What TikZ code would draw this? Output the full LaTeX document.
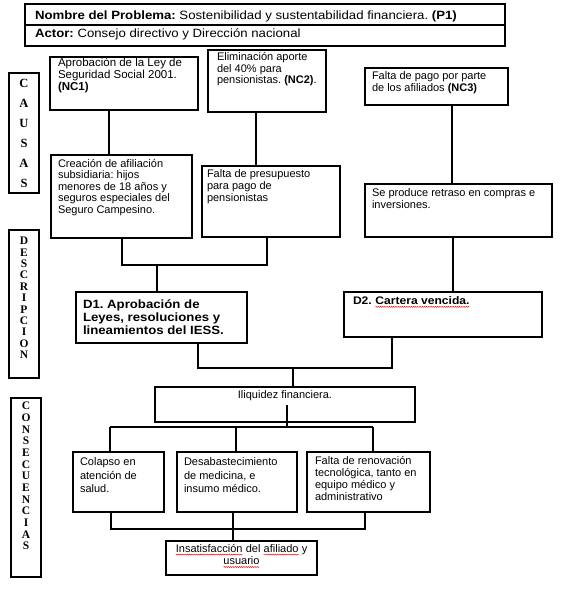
\documentclass[tikz,border=0pt]{standalone}
\usepackage{fontspec}
\setmainfont{Liberation Sans}
\newfontfamily\hdrf[FakeStretch=1.1]{Liberation Sans}
\newfontfamily\sidef{Liberation Serif}
\usetikzlibrary{fit,decorations.pathmorphing}
\frenchspacing
\newcommand\sqw[1]{\tikz[baseline=(w.base)]{\node[inner sep=0pt,outer sep=0pt,draw=none,anchor=base](w){#1};\draw[red,line width=0.45pt,decorate,decoration={snake,amplitude=0.55pt,segment length=2.2pt}]([yshift=-2.2pt]w.base west)--([yshift=-2.2pt]w.base east);}}
\begin{document}
\begin{tikzpicture}[x=1pt,y=-1pt,line width=1.1pt,
  bx/.style={draw,inner sep=0pt,outer sep=0pt},
  txt/.style={inner sep=0pt,outer sep=0pt,anchor=north west,align=left,font=\frenchspacing\fontsize{11}{11.6}\selectfont},
  hdt/.style={inner sep=0pt,outer sep=0pt,anchor=base west,font=\frenchspacing\hdrf\fontsize{12}{13}\selectfont},
  sidel/.style={inner sep=0pt,outer sep=0pt,font=\sidef\bfseries\fontsize{11.5}{11.5}\selectfont}]
\useasboundingbox[fill=white] (0,0) rectangle (578,589);
% header
\node[bx,fit={(25,4) (505,25)}] (hdr1) {};
\node[bx,fit={(25,25) (505,46)}] (hdr2) {};
\node[hdt] (h1t) at (35,19.3) {\textbf{Nombre del Problema:} Sostenibilidad y sustentabilidad financiera. \textbf{(P1)}};
\node[hdt] (h2t) at (35,37.3) {\textbf{Actor:} Consejo directivo y Dirección nacional};
% side labels
\node[bx,fit={(9,73) (39,193)}] (scau) {};
\foreach \l [count=\i] in {C,A,U,S,A,S}
  \node[sidel,font=\sidef\bfseries\fontsize{12.5}{12.5}\selectfont] (ca\i) at (24,{83+20.1*(\i-1)}) {\l};
\node[bx,fit={(9,230) (39,378)}] (sdes) {};
\foreach \l [count=\i] in {D,E,S,C,R,I,P,C,I,O,N}
  \node[sidel] (de\i) at (24,{241+11.4*(\i-1)}) {\l};
\node[bx,fit={(11,398) (41,577)}] (scon) {};
\foreach \l [count=\i] in {C,O,N,S,E,C,U,E,N,C,I,A,S}
  \node[sidel] (co\i) at (26,{406+11.67*(\i-1)}) {\l};
% boxes
\node[bx,fit={(50,57) (198,110)}] (nc1) {};
\node[bx,fit={(208,50) (326,112)}] (nc2) {};
\node[bx,fit={(365,68) (508,105)}] (nc3) {};
\node[bx,fit={(51,155) (192,238)}] (crea) {};
\node[bx,fit={(202,166) (340,237)}] (fpre) {};
\node[bx,fit={(365,184) (552,237)}] (sepr) {};
\node[bx,fit={(76,292) (247,343)}] (d1) {};
\node[bx,fit={(344,292) (542,337)}] (d2) {};
\node[bx,fit={(155,387) (415,422)}] (iliq) {};
\node[bx,fit={(73,452) (164,512)}] (colap) {};
\node[bx,fit={(177,452) (297,512)}] (desab) {};
\node[bx,fit={(307,452) (430,512)}] (frenov) {};
\node[bx,fit={(166,541) (317,575)}] (insat) {};
% texts
\node[txt,font=\frenchspacing\fontsize{11.5}{11.6}\selectfont] (nc1t) at (58,58.5) {Aprobación de la Ley de\\Seguridad Social 2001.\\\textbf{(NC1)}};
\node[txt] (nc2t) at (217,52.5) {Eliminación aporte\\del 40\% para\\pensionistas. \textbf{(NC2)}.};
\node[txt,font=\frenchspacing\fontsize{11}{12}\selectfont] (nc3t) at (372,71.5) {Falta de pago por parte\\de los afiliados \textbf{(NC3)}};
\node[txt] (creat) at (58,159) {Creación de afiliación\\subsidiaria: hijos\\menores de 18 años y\\seguros especiales del\\Seguro Campesino.};
\node[txt,font=\frenchspacing\fontsize{11}{11.8}\selectfont] (fpret) at (207,169.5) {Falta de presupuesto\\para pago de\\pensionistas};
\node[txt,font=\frenchspacing\fontsize{11}{12}\selectfont] (seprt) at (372,188.5) {Se produce retraso en compras e\\inversiones.};
\node[txt,font=\frenchspacing\hdrf\bfseries\fontsize{12}{13}\selectfont] (d1t) at (83,299.5) {D1. Aprobación de\\Leyes, resoluciones y\\lineamientos del IESS.};
\node[txt,font=\frenchspacing\hdrf\bfseries\fontsize{11}{12}\selectfont] (d2t) at (353,296.7) {D2. \sqw{Cartera vencida.}};
\node[txt,anchor=north] (iliqt) at (285,391) {Iliquidez financiera.};
\node[txt,font=\frenchspacing\fontsize{11}{13.5}\selectfont] (colapt) at (80,457.7) {Colapso en\\atención de\\salud.};
\node[txt,font=\frenchspacing\fontsize{11}{13.5}\selectfont] (desabt) at (184,457.7) {Desabastecimiento\\de medicina, e\\insumo médico.};
\node[txt,font=\frenchspacing\fontsize{11}{12}\selectfont] (frenovt) at (315,456) {Falta de renovación\\tecnológica, tanto en\\equipo médico y\\administrativo};
\node[txt,anchor=north,align=center,font=\frenchspacing\fontsize{11}{12.4}\selectfont] (insatt) at (241.5,544.3) {\sqw{Insatisfacción} del \sqw{afiliado} y\\\sqw{usuario}};
% connectors
\draw (nc1.south -| 109,0) -- (crea.north -| 109,0);
\draw (nc2.south -| 256,0) -- (fpre.north -| 256,0);
\draw (nc3.south -| 452,0) -- (sepr.north -| 452,0);
\coordinate (ja) at (122,265);
\coordinate (jb) at (267,265);
\coordinate (jc) at (157,265);
\draw (crea.south -| ja) -- (ja) -- (jb) -- (fpre.south -| jb);
\draw (jc) -- (d1.north -| jc);
\draw (sepr.south -| 453,0) -- (d2.north -| 453,0);
\coordinate (jd) at (198,368);
\coordinate (je) at (392,368);
\coordinate (jf) at (293,368);
\draw (d1.south -| jd) -- (jd) -- (je) -- (d2.south -| je);
\draw (jf) -- (iliq.north -| jf);
\coordinate (ig) at (287,405);
\coordinate (jg) at (287,427);
\draw (ig) -- (jg);
\coordinate (k1) at (110,427);
\coordinate (k2) at (236,427);
\coordinate (k3) at (373,427);
\draw (k1) -- (k3);
\draw (k1) -- (colap.north -| k1);
\draw (k2) -- (desab.north -| k2);
\draw (k3) -- (frenov.north -| k3);
\coordinate (m1) at (111,529);
\coordinate (m3) at (365,529);
\draw (colap.south -| m1) -- (m1) -- (m3) -- (frenov.south -| m3);
\draw (desab.south -| 233,0) -- (insat.north -| 233,0);
\end{tikzpicture}
\end{document}
